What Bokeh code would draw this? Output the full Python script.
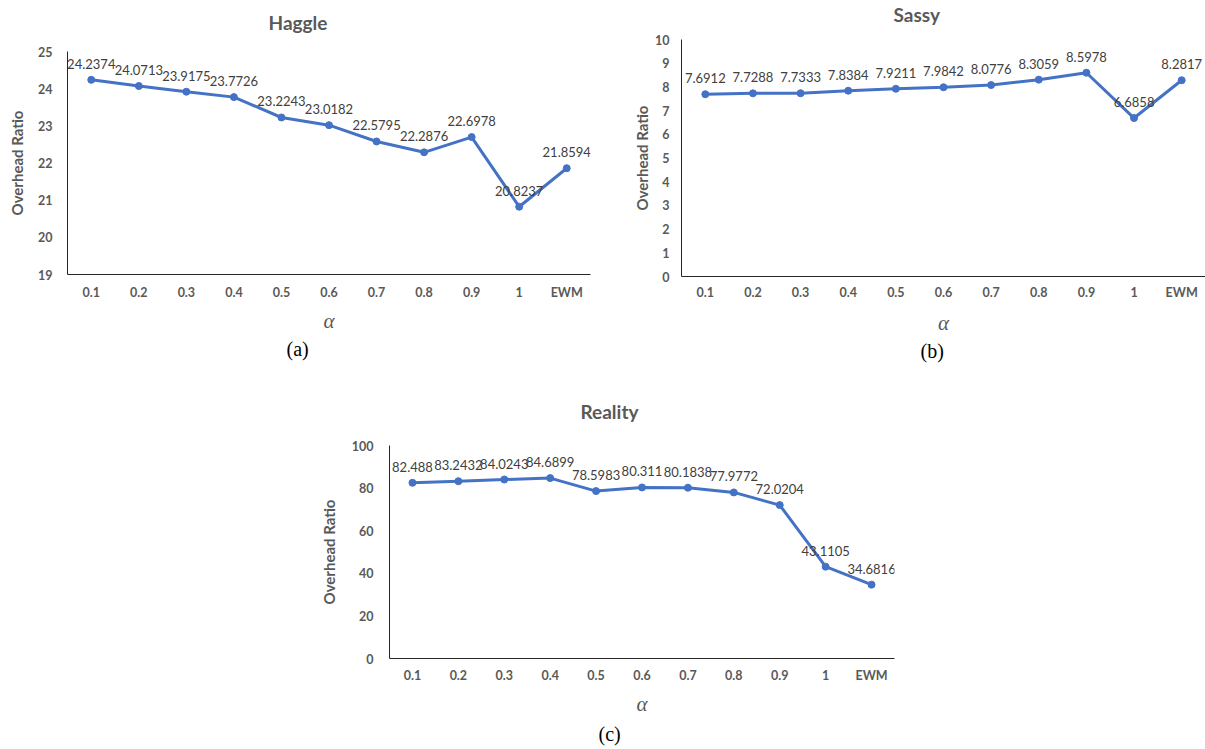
from bokeh.plotting import figure
from bokeh.models import FactorRange, Range1d, FixedTicker, Title, ColumnDataSource, Spacer
from bokeh.layouts import column, row
from bokeh.core.properties import value
from bokeh.embed import file_html
from bokeh.resources import INLINE

categories = ["0.1", "0.2", "0.3", "0.4", "0.5", "0.6", "0.7", "0.8", "0.9", "1", "EWM"]
haggle = [24.2374, 24.0713, 23.9175, 23.7726, 23.2243, 23.0182, 22.5795, 22.2876, 22.6978, 20.8237, 21.8594]
sassy = [7.6912, 7.7288, 7.7333, 7.8384, 7.9211, 7.9842, 8.0776, 8.3059, 8.5978, 6.6858, 8.2817]
reality = [82.488, 83.2432, 84.0243, 84.6899, 78.5983, 80.311, 80.1838, 77.9772, 72.0204, 43.1105, 34.6816]
haggle_ticks = [19, 20, 21, 22, 23, 24, 25]
sassy_ticks = [0, 1, 2, 3, 4, 5, 6, 7, 8, 9, 10]
reality_ticks = [0, 20, 40, 60, 80, 100]

BLUE = "#4472C4"
GREY = "#595959"
FONT = "Lato"


def make_panel(title, vals, ticks, caption, width, height, bl, br, bt, bb,
               title_gap, title_offset, cap_standoff, cap_offset,
               xtick_standoff, xlab_standoff, ylab_standoff, ytick_standoff):
    src = ColumnDataSource(dict(x=categories, y=vals, label=[str(v) for v in vals]))
    p = figure(x_range=FactorRange(*categories), y_range=Range1d(ticks[0], ticks[-1]),
               width=width, height=height, output_backend="svg", toolbar_location=None,
               min_border_left=bl, min_border_right=br, min_border_top=bt, min_border_bottom=bb)
    p.outline_line_color = None
    p.xgrid.grid_line_color = None
    p.ygrid.grid_line_color = None

    p.line("x", "y", source=src, line_color=BLUE, line_width=3)
    p.scatter("x", "y", source=src, size=7, fill_color=BLUE, line_color=BLUE)
    p.text("x", "y", text="label", source=src, text_align="center", text_baseline="bottom",
           y_offset=-11, text_font=value(FONT), text_font_size="13px", text_color="#404040")

    # gap between plot frame and title, then the title itself
    p.add_layout(Title(text=" ", text_font_size="1px", standoff=title_gap), "above")
    p.add_layout(Title(text=title, align="left", offset=title_offset, standoff=0,
                       text_font=FONT, text_font_size="19px", text_font_style="bold",
                       text_color=GREY), "above")

    xa = p.xaxis[0]
    xa.axis_line_color = "#262626"
    xa.major_tick_line_color = None
    xa.minor_tick_line_color = None
    xa.major_tick_out = 0
    xa.major_label_standoff = xtick_standoff
    xa.major_label_text_font = FONT
    xa.major_label_text_font_style = "bold"
    xa.major_label_text_font_size = "12.5px"
    xa.major_label_text_color = GREY
    xa.axis_label = "α"
    xa.axis_label_text_font = "Liberation Serif"
    xa.axis_label_text_font_style = "italic"
    xa.axis_label_text_font_size = "21px"
    xa.axis_label_text_color = GREY
    xa.axis_label_standoff = xlab_standoff

    p.add_layout(Title(text=caption, align="left", offset=cap_offset, standoff=cap_standoff,
                       text_font="Liberation Serif", text_font_size="20px",
                       text_font_style="normal", text_color="black"), "below")

    ya = p.yaxis[0]
    ya.ticker = FixedTicker(ticks=ticks)
    ya.axis_line_color = "#262626"
    ya.major_tick_line_color = None
    ya.minor_tick_line_color = None
    ya.major_tick_out = 0
    ya.major_label_standoff = ytick_standoff
    ya.major_label_text_font = FONT
    ya.major_label_text_font_style = "bold"
    ya.major_label_text_font_size = "12.5px"
    ya.major_label_text_color = GREY
    ya.axis_label = "Overhead Ratio"
    ya.axis_label_text_font = FONT
    ya.axis_label_text_font_style = "bold"
    ya.axis_label_text_font_size = "15px"
    ya.axis_label_text_color = GREY
    ya.axis_label_standoff = ylab_standoff
    return p


p1 = make_panel("Haggle", haggle, haggle_ticks, "(a)", 600, 357, 67, 10, 44, 90,
                15, 201, 0, 219, 10, 6, 9, 15)
p2 = make_panel("Sassy", sassy, sassy_ticks, "(b)", 605, 364, 81, 0, 39, 88,
                11, 212, 0, 239, 8, 8, 1, 12)
p3 = make_panel("Reality", reality, reality_ticks, "(c)", 600, 384, 89, 6, 81, 90,
                20, 191, 5, 209, 9, 6, 11, 16)

layout = column(row(column(Spacer(width=600, height=7), p1), p2),
                row(Spacer(width=300, height=10), p3))
open("out.html", "w").write(file_html(layout, INLINE))
